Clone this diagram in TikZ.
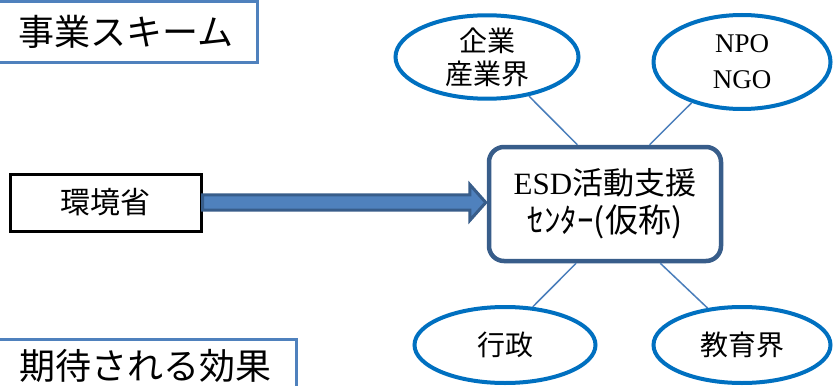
\documentclass[tikz,border=0pt]{standalone}
\usepackage{fontspec}
\setmainfont{Noto Sans CJK JP}
\newfontfamily\serifL{Liberation Serif}
\usetikzlibrary{shapes.geometric,calc}
\definecolor{ellblue}{HTML}{0070C0}
\definecolor{boxblue}{HTML}{4F81BD}
\definecolor{darkblue}{HTML}{385D8A}
\definecolor{lineblue}{HTML}{4A7EBB}
\tikzset{
  labelbox/.style={draw=boxblue, line width=3pt, fill=white, inner sep=0pt,
    font=\fontsize{36}{40}\selectfont},
  envbox/.style={draw=black, line width=3pt, fill=white, inner sep=0pt,
    font=\fontsize{30}{34}\selectfont},
  centerbox/.style={draw=darkblue, line width=4.5pt, fill=white, rounded corners=15pt,
    inner sep=0pt, align=center, font=\fontsize{31}{38}\selectfont},
  party/.style={ellipse, draw=ellblue, line width=4pt, fill=white, inner sep=0pt,
    align=center, font=\fontsize{28}{33}\selectfont},
  link/.style={draw=lineblue, line width=1.5pt},
  blockarrow/.style={draw=darkblue, fill=boxblue, line width=3pt, line join=miter}
}
\begin{document}
\begin{tikzpicture}[x=1pt,y=-1pt]
\useasboundingbox (0,0) rectangle (834,385);
\fill[white] (0,0) rectangle (834,385);

\node[labelbox, minimum width=262.5pt, minimum height=61pt] (title) at (126,32) {事業スキーム};
\node[labelbox, minimum width=302pt, minimum height=52pt] (effect) at (145.5,365.5) {期待される効果};

\node[envbox, minimum width=190.5pt, minimum height=57pt] (env) at (105.75,202.5) {環境省};

\node[centerbox, minimum width=232pt, minimum height=114pt] (esd) at (605,204)
  {{\serifL ESD}活動支援\\{\fontsize{33}{38}\selectfont ｾﾝﾀｰ(仮称)}};

\node[party, minimum width=183pt, minimum height=81pt] (biz) at (487,57) {企業\\産業界};
\node[party, minimum width=177pt, minimum height=94pt,
  font=\serifL\fontsize{27}{36}\selectfont] (npo) at (742,62) {NPO\\NGO};
\node[party, minimum width=181pt, minimum height=76pt] (gov) at (505,345) {行政};
\node[party, minimum width=177pt, minimum height=76pt] (edu) at (742,345) {教育界};

\draw[link] (biz.-43) -- (esd.115);
\draw[link] (npo.-141) -- (esd.53);
\draw[link] (esd.-116) -- (gov.54);
\draw[link] (esd.-47) -- (edu.133);

\coordinate (tip) at ($(esd.west |- env.east)+(-1,0)$);
\draw[blockarrow] ($(env.east)+(0,-7.7)$) -- ($(tip)+(-16,-7.7)$) -- ($(tip)+(-16,-18)$)
  -- (tip) -- ($(tip)+(-16,18)$) -- ($(tip)+(-16,7.7)$) -- ($(env.east)+(0,7.7)$) -- cycle;
\end{tikzpicture}
\end{document}
